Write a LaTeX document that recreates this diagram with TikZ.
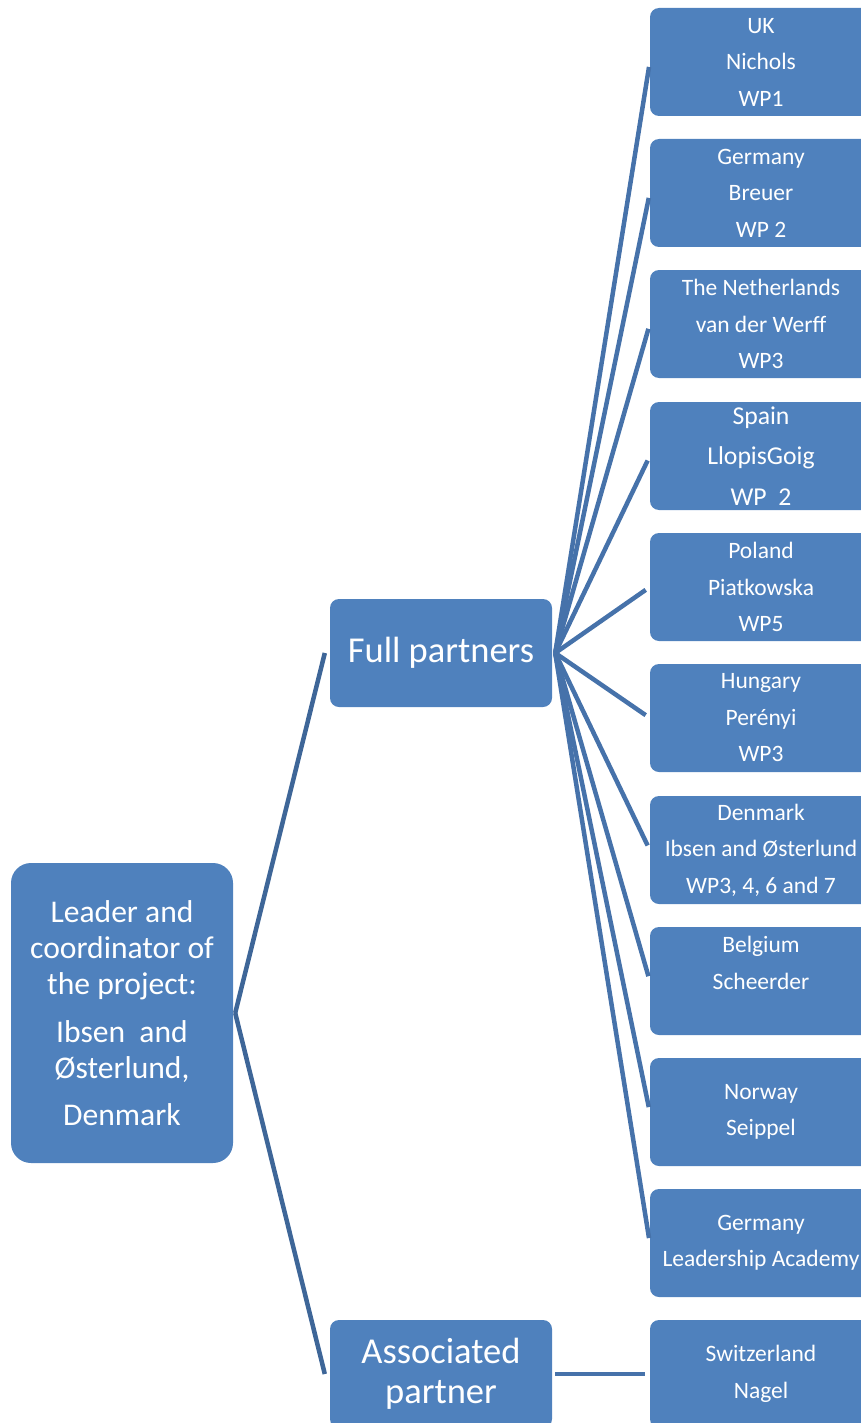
\documentclass[tikz,border=0pt]{standalone}
\usepackage{fontspec}
\setmainfont{Carlito}
\definecolor{boxblue}{HTML}{4F81BD}
\definecolor{linedark}{HTML}{3E6698}
\definecolor{lineblue}{HTML}{4672AA}
\tikzset{
  partbox/.style={fill=boxblue, rounded corners=9pt, minimum width=222pt, minimum height=108pt,
    inner sep=0pt, text=white, align=center, font=\fontsize{23.5}{36.5}\selectfont},
  bigbox/.style={partbox, font=\fontsize{36.5}{40}\selectfont},
  rootbox/.style={partbox, rounded corners=20pt, minimum height=300pt, font=\fontsize{31.6}{36}\selectfont},
  rootline/.style={draw=linedark, line width=4.5pt},
  partline/.style={draw=lineblue, line width=4.5pt, shorten >=5pt}
}
\begin{document}
\begin{tikzpicture}[x=1pt,y=-1pt]
\useasboundingbox (0,0) rectangle (861,1423);
\clip (0,0) rectangle (861,1423);
% nodes
\node[rootbox] (root) at (122,1013) {Leader and\\coordinator of\\the project:\\[12pt]Ibsen\ \ and\\Østerlund,\\[11pt]Denmark};
\node[bigbox] (fp) at (441,653) {Full partners};
\node[bigbox] (ap) at (441,1374) {Associated\\partner};
\node[partbox] (uk) at (761,62) {UK\\Nichols\\WP1};
\node[partbox] (de) at (761,193) {Germany\\Breuer\\WP 2};
\node[partbox] (nl) at (761,324) {The Netherlands\\van der Werff\\WP3};
\node[partbox, font=\fontsize{25.7}{40.5}\selectfont] (es) at (761,456) {Spain\\LlopisGoig\\WP\ \ 2};
\node[partbox] (pl) at (761,587) {Poland\\Piatkowska\\WP5};
\node[partbox] (hu) at (761,718) {Hungary\\Perényi\\WP3};
\node[partbox] (dk) at (761,850) {Denmark\\Ibsen and Østerlund\\WP3, 4, 6 and 7};
\node[partbox] (be) at (761,981) {Belgium\\Scheerder\\~};
\node[partbox] (no) at (761,1112) {Norway\\Seippel};
\node[partbox] (la) at (761,1243) {Germany\\Leadership Academy};
\node[partbox] (ch) at (761,1374) {Switzerland\\Nagel};
% connectors
\draw[rootline] ([xshift=2pt]root.east) -- ([xshift=-5pt]fp.west);
\draw[rootline] ([xshift=2pt]root.east) -- ([xshift=-5pt]ap.west);
\foreach \n in {uk,de,nl,es,pl,hu,dk,be,no,la}
  \draw[partline] ([xshift=3pt]fp.east) -- (\n.west);
\draw[partline] ([xshift=3pt]ap.east) -- (ch.west);
\end{tikzpicture}
\end{document}
